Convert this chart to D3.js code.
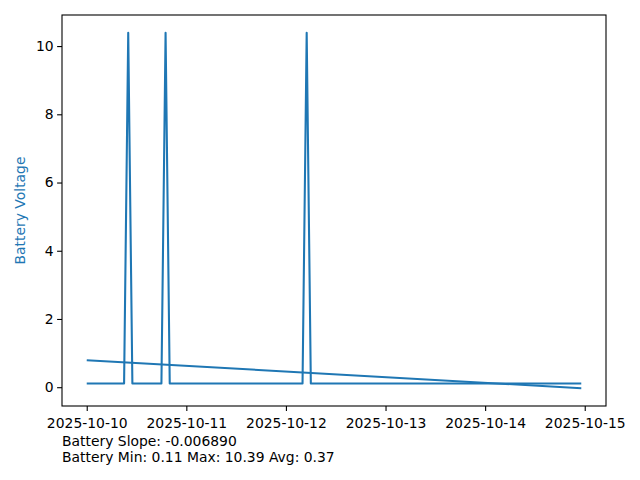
<!DOCTYPE html>
<html><head><meta charset="utf-8">
<script src="https://cdn.jsdelivr.net/npm/d3@7"></script>
<style>body{margin:0;background:#fff}text{font-family:"DejaVu Sans",sans-serif}</style>
</head><body>
<svg id="c" width="640" height="480"></svg>
<script>
// Battery readings (breakpoints of the series; baseline is constant between them)
const times = ["2025-10-10T00:00","2025-10-10T09:00","2025-10-10T10:00","2025-10-10T11:00",
  "2025-10-10T18:00","2025-10-10T19:00","2025-10-10T20:00",
  "2025-10-12T04:00","2025-10-12T05:00","2025-10-12T06:00","2025-10-14T23:10"];
const voltages = [0.11,0.11,10.39,0.11, 0.11,10.39,0.11, 0.11,10.39,0.11, 0.11];
// linear trend line endpoints
const trendTimes = ["2025-10-10T00:00","2025-10-14T23:10"];
const trendValues = [0.79,-0.03];
const yTicks = [0,2,4,6,8,10];
const xTicks = ["2025-10-10","2025-10-11","2025-10-12","2025-10-13","2025-10-14","2025-10-15"];
const infoLines = ["Battery Slope: -0.006890","Battery Min: 0.11 Max: 10.39 Avg: 0.37"];

const parse = d3.timeParse("%Y-%m-%dT%H:%M");
const parseDay = d3.timeParse("%Y-%m-%d");
const svg = d3.select("#c");
const L=62, R=606, T=15, B=406;
const color="#1f77b4";

const t0 = parse(times[0]), t1 = parse(times[times.length-1]);
const span = t1 - t0;
const x = d3.scaleTime().domain([new Date(+t0 - span*0.05), new Date(+t1 + span*0.05)]).range([L,R]);
const allY = voltages.concat(trendValues);
const ymin = d3.min(allY), ymax = d3.max(allY), yr = ymax-ymin;
const y = d3.scaleLinear().domain([ymin-yr*0.05, ymax+yr*0.05]).range([B,T]);

const line = d3.line().x(d=>x(d[0])).y(d=>y(d[1]));
svg.append("path").datum(times.map((t,i)=>[parse(t),voltages[i]]))
  .attr("d",line).attr("fill","none").attr("stroke",color).attr("stroke-width",2.08).attr("stroke-linejoin","round");
svg.append("path").datum(trendTimes.map((t,i)=>[parse(t),trendValues[i]]))
  .attr("d",line).attr("fill","none").attr("stroke",color).attr("stroke-width",2.08);

// axes
const xAxis = d3.axisBottom(x).tickValues(xTicks.map(parseDay)).tickFormat(d3.timeFormat("%Y-%m-%d")).tickSizeInner(4.9).tickSizeOuter(0).tickPadding(7);
const gx = svg.append("g").attr("transform",`translate(0,${B})`).call(xAxis);
const yAxis = d3.axisLeft(y).tickValues(yTicks).tickFormat(d3.format("d")).tickSizeInner(4.9).tickSizeOuter(0).tickPadding(3.5);
const gy = svg.append("g").attr("transform",`translate(${L},0)`).call(yAxis);
[gx,gy].forEach(g=>{
  g.select(".domain").remove();
  g.selectAll(".tick line").attr("stroke","#000").attr("stroke-width",1.1);
  g.selectAll(".tick text").attr("font-size","13.9px").attr("fill","#000").attr("font-family","DejaVu Sans");
});
svg.append("rect").attr("x",L).attr("y",T).attr("width",R-L).attr("height",B-T)
  .attr("fill","none").attr("stroke","#000").attr("stroke-width",1.1);

svg.append("text").attr("transform",`translate(25,${(T+B)/2}) rotate(-90)`).attr("text-anchor","middle")
  .attr("font-size","13.9px").attr("fill",color).text("Battery Voltage");

infoLines.forEach((s,i)=>svg.append("text").attr("x",62).attr("y",446+i*16).attr("font-size","13.9px").attr("fill","#000").text(s));
</script>
</body></html>
